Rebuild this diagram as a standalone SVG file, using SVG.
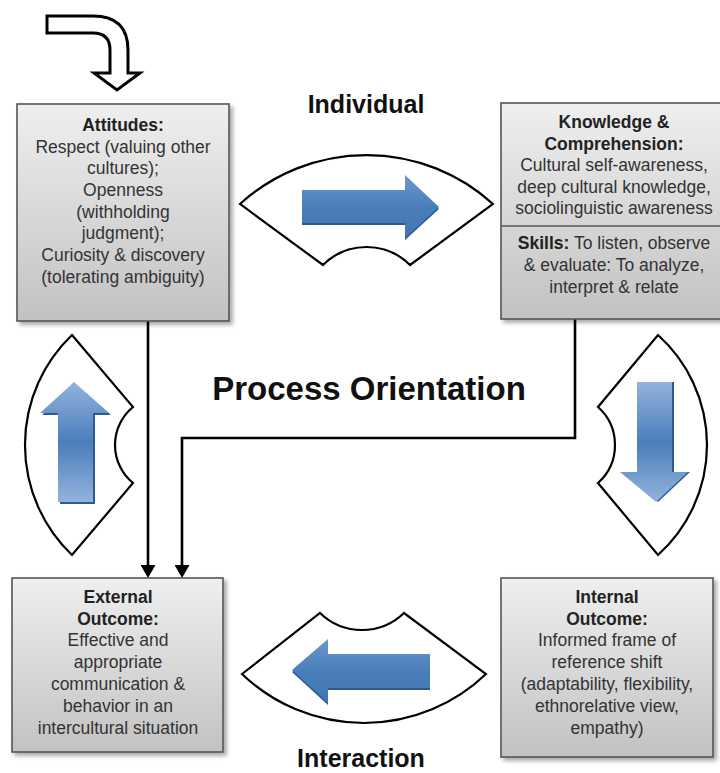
<svg xmlns="http://www.w3.org/2000/svg" width="720" height="773" viewBox="0 0 720 773">
<defs>
<linearGradient id="boxg" x1="0" y1="0" x2="0" y2="1">
<stop offset="0" stop-color="#efefef"/>
<stop offset="1" stop-color="#c2c2c2"/>
</linearGradient>
<linearGradient id="bluev" x1="0" y1="0" x2="0" y2="1">
<stop offset="0" stop-color="#93b3dc"/>
<stop offset="0.5" stop-color="#4a7ebb"/>
<stop offset="1" stop-color="#93b3dc"/>
</linearGradient>
<linearGradient id="blueh" x1="0" y1="0" x2="0" y2="1">
<stop offset="0" stop-color="#6d98cd"/>
<stop offset="0.5" stop-color="#4a7ebb"/>
<stop offset="1" stop-color="#4274b2"/>
</linearGradient>
<filter id="sh" x="-10%" y="-10%" width="130%" height="130%">
<feGaussianBlur in="SourceAlpha" stdDeviation="2"/>
<feOffset dx="3" dy="3" result="o"/>
<feComponentTransfer><feFuncA type="linear" slope="0.35"/></feComponentTransfer>
<feMerge><feMergeNode/><feMergeNode in="SourceGraphic"/></feMerge>
</filter>
<marker id="ah" viewBox="0 0 13 15" refX="0" refY="7.5" markerWidth="13" markerHeight="15" markerUnits="userSpaceOnUse" orient="auto">
<path d="M0,0 L13,7.5 L0,15 Z" fill="#000"/>
</marker>
</defs>
<style>
.box{fill:url(#boxg);stroke:#555;stroke-width:1.6;filter:url(#sh)}
.t{font-family:"Liberation Sans",Arial,sans-serif;font-size:17.5px;fill:#333;text-anchor:middle}
.b{font-weight:bold;fill:#222}
.lbl{font-family:"Liberation Sans",Arial,sans-serif;font-weight:bold;fill:#111;text-anchor:middle}
.fan{fill:#fff;stroke:#000;stroke-width:2.2;stroke-linejoin:miter}
.sd{fill:#2d5a90}
.conn{fill:none;stroke:#000;stroke-width:2.6}
</style>
<rect width="720" height="773" fill="#fff"/>

<g id="start-arrow">
<path d="M47,16 L93,16 Q128,16 128,50 L128,73 L140,73 L117,90 L94,73 L110,73 L110,50 Q110,33 93,33 L47,33 Z" fill="#fff" stroke="#000" stroke-width="3" stroke-linejoin="miter"/>
</g>

<g id="labels">
<text class="lbl" x="366" y="113" font-size="25">Individual</text>
<text class="lbl" x="369" y="400" font-size="33">Process Orientation</text>
<text class="lbl" x="361" y="767" font-size="25">Interaction</text>
</g>

<g id="connectors">
<path class="conn" d="M148,321 V565" marker-end="url(#ah)"/>
<path class="conn" d="M575,319 V438 H182 V565" marker-end="url(#ah)"/>
</g>

<g id="fan-top">
<path class="fan" d="M240,204 A188,188 0 0 1 493,204 L410,265 A61.6,61.6 0 0 0 323,265 Z"/>
<polygon class="sd" points="302,192 405,192 405,177 439,209 405,240 405,225 302,225"/>
<polygon fill="url(#blueh)" points="302,190 405,190 405,175 439,207 405,238 405,223 302,223"/>
</g>

<g id="fan-right">
<path class="fan" d="M658,335 A148,148 0 0 1 658,555 L598,483 A51,51 0 0 0 598,407 Z"/>
<polygon class="sd" points="639,382 674,382 674,472 690,472 658,502 622,472 639,472"/>
<polygon fill="url(#bluev)" points="637,382 672,382 672,472 688,472 656,502 620,472 637,472"/>
</g>

<g id="fan-bottom">
<path class="fan" d="M242,674 L320,613 A60.4,60.4 0 0 0 404,613 L486,674 A176.4,176.4 0 0 1 242,674 Z"/>
<polygon class="sd" points="292,672 328,641 328,656 430,656 430,690 328,690 328,705"/>
<polygon fill="url(#blueh)" points="292,670 328,639 328,654 430,654 430,688 328,688 328,703"/>
</g>

<g id="fan-left">
<path class="fan" d="M72,335 L133,407 A49.1,49.1 0 0 0 133,483 L72,555 A152.2,152.2 0 0 1 72,335 Z"/>
<polygon class="sd" points="60,504 60,415 42,415 75,384 111,415 95,415 95,504"/>
<polygon fill="url(#bluev)" points="58,502 58,413 40,413 74,382 109,413 93,413 93,502"/>
</g>

<g id="attitudes">
<rect class="box" x="17" y="104" width="212" height="217"/>
<text class="t b" x="123" y="131">Attitudes:</text>
<text class="t" x="123" y="152.7">Respect (valuing other</text>
<text class="t" x="123" y="174.3">cultures);</text>
<text class="t" x="123" y="196">Openness</text>
<text class="t" x="123" y="217.7">(withholding</text>
<text class="t" x="123" y="239.3">judgment);</text>
<text class="t" x="123" y="261">Curiosity &amp; discovery</text>
<text class="t" x="123" y="282.7">(tolerating ambiguity)</text>
</g>

<g id="knowledge-skills">
<rect class="box" x="501" y="103" width="226" height="216"/>
<line x1="501" y1="226" x2="727" y2="226" stroke="#555" stroke-width="1.6"/>
<text class="t b" x="614" y="128">Knowledge &amp;</text>
<text class="t b" x="614" y="149.5">Comprehension:</text>
<text class="t" x="614" y="171">Cultural self-awareness,</text>
<text class="t" x="614" y="192.5">deep cultural knowledge,</text>
<text class="t" x="614" y="214">sociolinguistic awareness</text>
<text class="t" x="614" y="249"><tspan class="b">Skills:</tspan> To listen, observe</text>
<text class="t" x="614" y="271">&amp; evaluate: To analyze,</text>
<text class="t" x="614" y="293">interpret &amp; relate</text>
</g>

<g id="external-outcome">
<rect class="box" x="12" y="578" width="211" height="174"/>
<text class="t b" x="118" y="603">External</text>
<text class="t b" x="118" y="624.7">Outcome:</text>
<text class="t" x="118" y="646.3">Effective and</text>
<text class="t" x="118" y="668">appropriate</text>
<text class="t" x="118" y="690">communication &amp;</text>
<text class="t" x="118" y="712">behavior in an</text>
<text class="t" x="118" y="734">intercultural situation</text>
</g>

<g id="internal-outcome">
<rect class="box" x="501" y="578" width="212" height="179"/>
<text class="t b" x="607" y="603">Internal</text>
<text class="t b" x="607" y="624.7">Outcome:</text>
<text class="t" x="607" y="646.3">Informed frame of</text>
<text class="t" x="607" y="668">reference shift</text>
<text class="t" x="607" y="690">(adaptability, flexibility,</text>
<text class="t" x="607" y="712">ethnorelative view,</text>
<text class="t" x="607" y="734">empathy)</text>
</g>
</svg>
